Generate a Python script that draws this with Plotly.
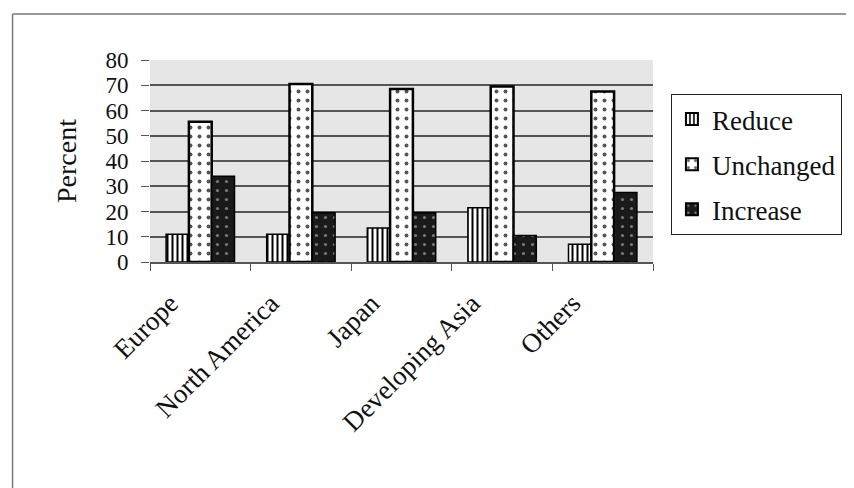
import plotly.graph_objects as go

categories = ["Europe", "North America", "Japan", "Developing Asia", "Others"]
reduce_vals = [11, 11, 13.5, 21.5, 7]
unchanged_vals = [55.5, 70.5, 68.5, 69.5, 67.5]
increase_vals = [34, 19.5, 19.5, 10.5, 27.5]
y_ticks = [0, 10, 20, 30, 40, 50, 60, 70, 80]

FONT = "Liberation Serif"
OFF = 8  # page body margin offset

fig = go.Figure()
fig.add_trace(go.Bar(
    name="Reduce", x=categories, y=reduce_vals, legendgroup="r",
    marker=dict(color="white", line=dict(color="black", width=1.5),
                pattern=dict(shape="|", fgcolor="black", bgcolor="white", size=5, solidity=0.4)),
))
fig.add_trace(go.Bar(
    name="Unchanged", x=categories, y=unchanged_vals, legendgroup="u",
    marker=dict(color="white", line=dict(color="black", width=2.5),
                pattern=dict(shape=".", fgcolor="#555555", bgcolor="white", size=9, solidity=0.15)),
))
fig.add_trace(go.Bar(
    name="Increase", x=categories, y=increase_vals, legendgroup="i",
    marker=dict(color="#1a1a1a", line=dict(color="black", width=1.5),
                pattern=dict(shape=".", fgcolor="#777777", bgcolor="#1a1a1a", size=9, solidity=0.1)),
))

L, R, T, B = 150, 655, 60, 262
W, H = 854, 488
def px(x):
    return (x - L) / (R - L)
def py(y):
    return (B - y) / (B - T)

fig.update_layout(
    template="none",
    width=W - OFF, height=H - OFF,
    margin=dict(l=L - OFF, r=W - R, t=T - OFF, b=H - B),
    paper_bgcolor="white",
    plot_bgcolor="#e6e6e6",
    barmode="group",
    bargap=0.32,
    bargroupgap=0,
    font=dict(family=FONT, color="#111111"),
    showlegend=True,
    legend=dict(
        x=px(673), y=py(94), xanchor="left", yanchor="top",
        bgcolor="white", bordercolor="#222222", borderwidth=1,
        font=dict(family=FONT, size=27, color="#111111"),
        itemsizing="constant", tracegroupgap=7, itemwidth=30,
    ),
    shapes=[
        dict(type="line", xref="paper", yref="paper",
             x0=px(12), y0=py(488), x1=px(12), y1=py(14),
             line=dict(color="#777777", width=1.5)),
        dict(type="line", xref="paper", yref="paper",
             x0=px(12), y0=py(14), x1=px(854), y1=py(14),
             line=dict(color="#777777", width=1.5)),
    ],
)

fig.update_xaxes(
    type="category",
    tickangle=-45,
    tickfont=dict(family=FONT, size=27, color="#111111"),
    ticks="outside", tickson="boundaries", ticklen=7, tickcolor="#555555",
    ticklabelstandoff=13, ticklabelshift=-30,
    showline=True, linecolor="#555555", linewidth=1.5,
    showgrid=False, zeroline=False,
)
fig.update_yaxes(
    range=[0, 80],
    tickvals=y_ticks,
    ticktext=[str(v) for v in y_ticks],
    tickfont=dict(family=FONT, size=23, color="#111111"),
    ticks="outside", ticklen=8, tickcolor="#555555",
    ticklabelstandoff=8,
    showgrid=True, gridcolor="#555555", gridwidth=1.5,
    showline=False, zeroline=False,
    title=dict(text="Percent", font=dict(family=FONT, size=28, color="#111111"), standoff=20),
)

fig.write_html("out.html")
